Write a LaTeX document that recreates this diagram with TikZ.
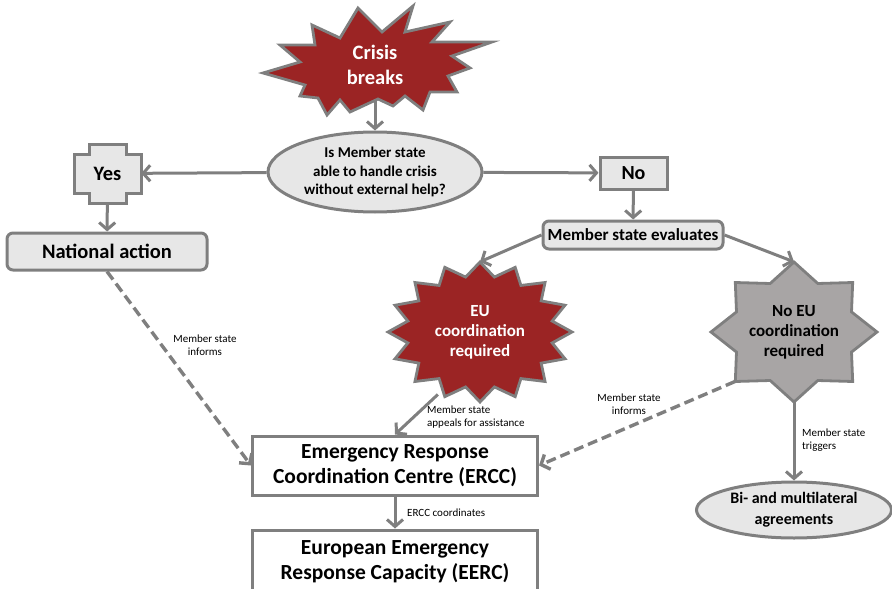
\documentclass[tikz,border=0pt]{standalone}
\usepackage{fontspec}
\setmainfont{Carlito}
\usepackage{tikz}
\usetikzlibrary{arrows.meta, positioning, shapes.geometric, backgrounds, calc}
\definecolor{linegray}{RGB}{127, 127, 127}
\definecolor{boxgray}{RGB}{231, 231, 231}
\definecolor{crisisred}{RGB}{155, 36, 36}
\definecolor{stargray}{RGB}{168, 165, 165}
\newcommand{\fs}[2]{\fontsize{#1}{#2}\selectfont}

\begin{document}
\begin{tikzpicture}[
  x = 1pt, y = -1pt,
  every node/.style = {align=center, inner sep=0pt},
  graybox/.style  = {draw=linegray, fill=boxgray, line width=3pt},
  whitebox/.style = {draw=linegray, fill=white, line width=3pt,
                     minimum width=285pt, font=\bfseries\fs{21.5}{25}},
  burst/.style    = {draw=linegray, line width=2.8pt, line join=miter},
  flow/.style     = {-{Straight Barb[length=7pt, width=16pt]}, draw=linegray,
                     line width=3pt},
  dashflow/.style = {flow, line width=3.4pt, dash pattern=on 10pt off 5pt},
  note/.style     = {font=\fs{11}{13.5}}
]
\useasboundingbox (0,0) rectangle (892,589);

% Nodes
\node[font=\bfseries\fs{20.5}{25}, text=white, minimum height=70pt] (crisis)
  at (375,65) {Crisis\\breaks};
\node[graybox, ellipse, minimum width=214pt, minimum height=80pt,
      font=\bfseries\fs{15}{18.5}] (question) at (375,172)
  {Is Member state\\able to handle crisis\\without external help?};
\node[minimum width=67pt, minimum height=59pt, font=\bfseries\fs{20.5}{25}] (yes)
  at (107.5,173.5) {Yes};
\node[graybox, minimum width=67pt, minimum height=32pt, font=\bfseries\fs{20}{24}] (no)
  at (633.5,173) {No};
\node[graybox, rounded corners=6pt, minimum width=200pt, minimum height=37pt,
      font=\bfseries\fs{20.5}{25}] (national) at (107,251.5) {National action};
\node[graybox, rounded corners=6pt, minimum width=180pt, minimum height=28pt,
      font=\bfseries\fs{17}{20}] (mse) at (633,235) {Member state evaluates};
\node[ellipse, minimum width=184pt, minimum height=140pt, text=white,
      font=\bfseries\fs{17}{20}] (eu) at (480,332) {EU\\coordination\\required};
\node[ellipse, minimum width=166pt, minimum height=140pt,
      font=\bfseries\fs{17}{20}] (noeu) at (794,332) {No EU\\coordination\\required};
\node[whitebox, minimum height=59pt] (ercc) at (395,465.5)
  {Emergency Response\\Coordination Centre (ERCC)};
\node[whitebox, minimum height=63pt] (eerc) at (395,561.5)
  {European Emergency\\Response Capacity (EERC)};
\node[graybox, ellipse, minimum width=195pt, minimum height=56pt,
      font=\bfseries\fs{16}{21}] (bi) at (794,510) {Bi- and multilateral\\agreements};

% Labels
\node[note] (informnat) at (205,345) {Member state\\informs};
\node[note, anchor=west, align=left] (appeal) at (427,417) {Member state\\appeals for assistance};
\node[note] (informnoeu) at (629,404) {Member state\\informs};
\node[note, anchor=west, align=left] (trigger) at (802,440) {Member state\\triggers};
\node[note, anchor=west] (coord) at (407,513) {ERCC coordinates};

% Shapes behind the texts
\begin{scope}[on background layer]
  \draw[burst, fill=crisisred, shift={(crisis)}]
    (38,-59) -- (30,-33) -- (75,-43) -- (57,-23) -- (117,-23) -- (77,-9)
    -- (95,3) -- (73,11) -- (82,27) -- (55,27) -- (48,45) -- (30,31)
    -- (18,41) -- (3,34) -- (-25,47) -- (-35,35) -- (-48,50) -- (-57,33)
    -- (-75,31) -- (-70,20) -- (-112,8) -- (-75,-3) -- (-95,-20) -- (-60,-20)
    -- (-63,-40) -- (-35,-27) -- (-17,-57) -- (7,-33) -- cycle;
  \draw[graybox, shift={(yes)}]
    (-18.5,-29.5) -- (18.5,-29.5) -- (18.5,-19.5) -- (33.5,-19.5) -- (33.5,19.5)
    -- (18.5,19.5) -- (18.5,29.5) -- (-18.5,29.5) -- (-18.5,19.5) -- (-33.5,19.5)
    -- (-33.5,-19.5) -- (-18.5,-19.5) -- cycle;
  \draw[burst, fill=crisisred, shift={(eu)}] (0,-70)
    \foreach \k [evaluate={\r=1-0.2*mod(\k,2);}] in {1,...,31} {
      -- ({92*\r*sin(11.25*\k)}, {-70*\r*cos(11.25*\k)}) } -- cycle;
  \draw[burst, fill=stargray, shift={(noeu)}] (0,-70)
    \foreach \k [evaluate={\r=1-0.25*mod(\k,2);}] in {1,...,15} {
      -- ({83*\r*sin(22.5*\k)}, {-70*\r*cos(22.5*\k)}) } -- cycle;
\end{scope}

% Arrows
\draw[flow] (crisis) -- (question);
\draw[flow] (question) -- (yes);
\draw[flow] (question) -- (no);
\draw[flow] (yes) -- (national);
\draw[flow] (no) -- (mse);
\draw[flow] (mse.west) -- (eu.north);
\draw[flow] (mse.east) -- (noeu.north);
\draw[dashflow] (national.south) -- (ercc.west);
\draw[flow] (eu.236) -- (ercc.north);
\draw[dashflow] (noeu.220) -- (ercc.east);
\draw[flow] (noeu) -- (bi);
\draw[flow] (ercc) -- (eerc);

\end{tikzpicture}
\end{document}
